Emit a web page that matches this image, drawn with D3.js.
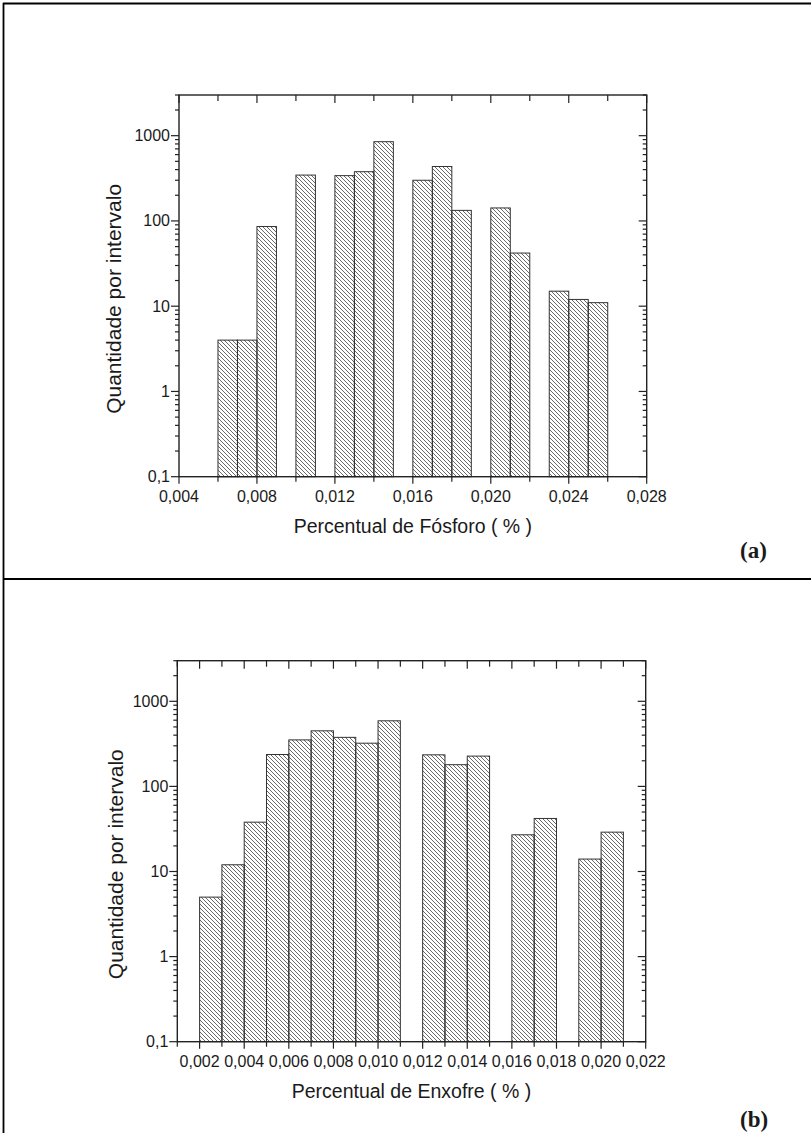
<!DOCTYPE html>
<html>
<head>
<meta charset="utf-8">
<script src="https://cdn.jsdelivr.net/npm/d3@7"></script>
<style>
  body { margin: 0; background: #fff; }
  svg { display: block; }
  text { font-family: "Liberation Sans", Arial, sans-serif; fill: #1a1a1a; }
</style>
</head>
<body>
<div id="chart"></div>
<script>
// bin starts (width 0.001) and counts
const fosforoBins   = [0.006, 0.007, 0.008, 0.010, 0.012, 0.013, 0.014, 0.016, 0.017, 0.018, 0.020, 0.021, 0.023, 0.024, 0.025];
const fosforoCounts = [4, 4, 86, 345, 340, 378, 850, 300, 435, 133, 142, 42, 15, 12, 11];

const enxofreBins   = [0.002, 0.003, 0.004, 0.005, 0.006, 0.007, 0.008, 0.009, 0.010, 0.012, 0.013, 0.014, 0.016, 0.017, 0.019, 0.020];
const enxofreCounts = [5, 12, 38, 237, 352, 450, 377, 322, 590, 235, 180, 227, 27, 42, 14, 29];

const fosforoTicks = [0.004, 0.008, 0.012, 0.016, 0.020, 0.024, 0.028];
const enxofreTicks = [0.002, 0.004, 0.006, 0.008, 0.010, 0.012, 0.014, 0.016, 0.018, 0.020, 0.022];
const yTickValues  = [0.1, 1, 10, 100, 1000];

const binWidth = 0.001;
const yLabel = 'Quantidade por intervalo';

const W = 811, H = 1133;
const svg = d3.select('#chart').append('svg')
	.attr('width', W)
	.attr('height', H);

const defs = svg.append('defs');
defs.append('pattern')
	.attr('id', 'hatch')
	.attr('patternUnits', 'userSpaceOnUse')
	.attr('width', 4)
	.attr('height', 4)
	.append('path')
	.attr('d', 'M-1,-1 L5,5 M-1,3 L1,5 M3,-1 L5,1')
	.attr('stroke', '#444')
	.attr('stroke-width', 0.8);

// outer frame of the figure table
svg.append('g')
	.attr('stroke', '#000')
	.attr('stroke-width', 1.8)
	.selectAll('line')
	.data([[3, 3.5, W, 3.5], [3.5, 3, 3.5, H], [3, 579, W, 579]])
	.enter()
	.append('line')
	.attr('x1', d => d[0]).attr('y1', d => d[1])
	.attr('x2', d => d[2]).attr('y2', d => d[3]);

const commaFmt = d => String(d).replace('.', ',');
const xFmt = d => d3.format('.3f')(d).replace('.', ',');

function drawPanel(opt) {
	const x = d3.scaleLinear().domain(opt.xDomain).range([opt.left, opt.right]);
	const y = d3.scaleLog().domain([0.1, 3000]).range([opt.bottom, opt.top]);
	const g = svg.append('g');

	// bars
	g.append('g')
		.selectAll('rect')
		.data(opt.bins.map((b, i) => [b, opt.counts[i]]))
		.enter()
		.append('rect')
		.attr('x', d => x(d[0]))
		.attr('width', d => x(d[0] + binWidth) - x(d[0]))
		.attr('y', d => y(d[1]))
		.attr('height', d => y(0.1) - y(d[1]))
		.attr('fill', 'url(#hatch)')
		.attr('stroke', '#333')
		.attr('stroke-width', 1);

	// frame
	g.append('rect')
		.attr('x', opt.left).attr('y', opt.top)
		.attr('width', opt.right - opt.left)
		.attr('height', opt.bottom - opt.top)
		.attr('fill', 'none')
		.attr('stroke', '#222')
		.attr('stroke-width', 1.4);

	const ticks = g.append('g').attr('stroke', '#222').attr('stroke-width', 1.2);

	// x ticks: bottom outward, top inward
	const xAll = d3.range(Math.round(opt.xDomain[0] / opt.xStep), Math.round(opt.xDomain[1] / opt.xStep) + 1)
		.map(k => +(k * opt.xStep).toFixed(4));
	const isMajorX = v => opt.xTicks.some(t => Math.abs(t - v) < 1e-7);
	ticks.selectAll('.xb').data(xAll).enter().append('line')
		.attr('x1', d => x(d)).attr('x2', d => x(d))
		.attr('y1', opt.bottom).attr('y2', d => opt.bottom + (isMajorX(d) ? 7 : 5));
	ticks.selectAll('.xt').data(xAll).enter().append('line')
		.attr('x1', d => x(d)).attr('x2', d => x(d))
		.attr('y1', opt.top).attr('y2', d => opt.top + (isMajorX(d) ? 8 : 6));

	// y ticks: left outward, right inward
	const yAll = y.ticks().filter(v => v >= 0.1 && v <= 3000);
	const isMajorY = v => yTickValues.indexOf(v) >= 0;
	ticks.selectAll('.yl').data(yAll).enter().append('line')
		.attr('y1', d => y(d)).attr('y2', d => y(d))
		.attr('x1', opt.left).attr('x2', d => opt.left - (isMajorY(d) ? 8 : 4));
	ticks.selectAll('.yr').data(yAll).enter().append('line')
		.attr('y1', d => y(d)).attr('y2', d => y(d))
		.attr('x1', opt.right).attr('x2', d => opt.right - (isMajorY(d) ? 8 : 4));

	// tick labels
	g.append('g').selectAll('text').data(opt.xTicks).enter().append('text')
		.attr('x', d => x(d))
		.attr('y', opt.bottom + 25)
		.attr('text-anchor', 'middle')
		.style('font-size', '16px')
		.text(xFmt);
	g.append('g').selectAll('text').data(yTickValues).enter().append('text')
		.attr('x', opt.left - 9)
		.attr('y', d => y(d) + 5.5)
		.attr('text-anchor', 'end')
		.style('font-size', '16px')
		.text(commaFmt);

	// axis titles
	g.append('text')
		.attr('transform', `translate(${opt.yLabelX},${(opt.top + opt.bottom) / 2 + 13}) rotate(-90)`)
		.attr('text-anchor', 'middle')
		.style('font-size', '21px')
		.text(yLabel);
	g.append('text')
		.attr('x', (opt.left + opt.right) / 2)
		.attr('y', opt.bottom + 56)
		.attr('text-anchor', 'middle')
		.style('font-size', '19.5px')
		.text(opt.xLabel);

	svg.append('text')
		.attr('x', 740)
		.attr('y', opt.tagY)
		.style('font-family', '"Liberation Serif", "Times New Roman", serif')
		.style('font-weight', 'bold')
		.style('font-size', '23px')
		.text(opt.tag);
}

drawPanel({
	left: 179, right: 646.7, top: 95, bottom: 476.7,
	xDomain: [0.004, 0.028], xStep: 0.002, xTicks: fosforoTicks,
	bins: fosforoBins, counts: fosforoCounts,
	xLabel: 'Percentual de Fósforo ( % )',
	yLabelX: 121, tag: '(a)', tagY: 558
});

drawPanel({
	left: 177.3, right: 645.7, top: 660.7, bottom: 1041.7,
	xDomain: [0.001, 0.022], xStep: 0.001, xTicks: enxofreTicks,
	bins: enxofreBins, counts: enxofreCounts,
	xLabel: 'Percentual de Enxofre ( % )',
	yLabelX: 123, tag: '(b)', tagY: 1127
});
</script>
</body>
</html>
